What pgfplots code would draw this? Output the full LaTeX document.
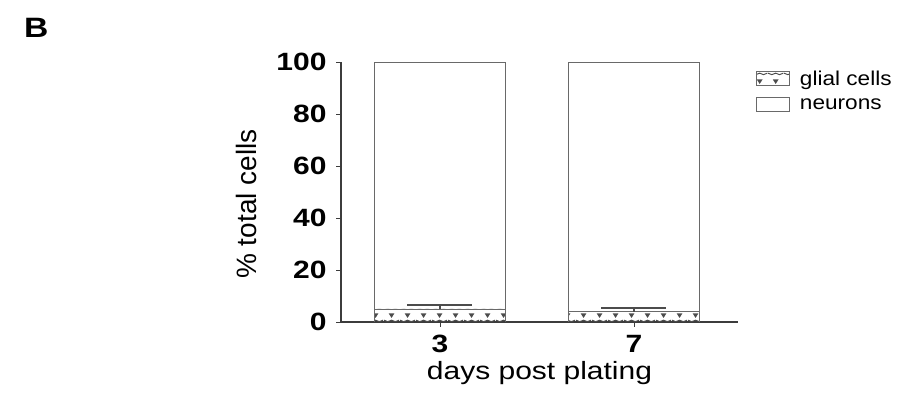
\documentclass[border=0pt]{standalone}
\usepackage{pgfplots}
\pgfplotsset{compat=1.18}
\usepackage{fontspec}
\setmainfont{Liberation Sans}
\newfontfamily\widefont[FakeStretch=1.2]{Liberation Sans}
\newfontfamily\legfont[FakeStretch=1.13]{Liberation Sans}
\usetikzlibrary{patterns}
\pgfdeclarepatternformonly{dtri}{\pgfpoint{0pt}{0pt}}{\pgfpoint{16pt}{13pt}}{\pgfpoint{16pt}{13pt}}{
  \pgfpathmoveto{\pgfpoint{5pt}{12pt}}
  \pgfpathlineto{\pgfpoint{11pt}{12pt}}
  \pgfpathlineto{\pgfpoint{8pt}{7.3pt}}
  \pgfpathclose
  \pgfusepath{fill}
  \pgfsetlinewidth{1pt}
  \pgfpathmoveto{\pgfpoint{0pt}{5pt}}
  \pgfpathcurveto{\pgfpoint{2pt}{3pt}}{\pgfpoint{6pt}{3pt}}{\pgfpoint{8pt}{5pt}}
  \pgfpathcurveto{\pgfpoint{10pt}{3pt}}{\pgfpoint{14pt}{3pt}}{\pgfpoint{16pt}{5pt}}
  \pgfusepath{stroke}
}
\definecolor{axgray}{RGB}{60,60,60}
\definecolor{bargray}{RGB}{105,105,105}
\begin{document}
\begin{tikzpicture}
\useasboundingbox (0pt,0pt) rectangle (898pt,403pt);
\node[anchor=north west, inner sep=0pt, font=\widefont\bfseries\fontsize{28}{28}\selectfont] at (24pt,385pt) {B};
\begin{axis}[
  at={(341pt,81pt)}, anchor=south west,
  scale only axis, width=397pt, height=260pt,
  xmin=-0.51, xmax=1.536, ymin=0, ymax=100,
  ybar stacked, bar width=131pt,
  axis lines*=left,
  axis line style={-, axgray, line width=1.1pt},
  xtick={0,1}, xticklabels={3,7},
  ytick={0,20,40,60,80,100},
  tick align=outside,
  major tick length=5pt,
  tick style={axgray, line width=0.9pt},
  /pgf/number format/assume math mode=true,
  ticklabel style={font=\widefont\bfseries\fontsize{25}{25}\selectfont},
  yticklabel style={xshift=-6pt},
  xticklabel style={yshift=-5pt},
  xlabel={days post plating},
  ylabel={\% total cells},
  xlabel style={font=\widefont\fontsize{25}{25}\selectfont, at={(axis description cs:0.5,-0.195)}, anchor=center},
  ylabel style={font=\fontsize{28}{28}\selectfont, at={(axis description cs:-0.239,0.454)}, anchor=center},
  legend style={at={(axis description cs:1.045,0.975)}, anchor=north west, draw=none, fill=none,
    font=\legfont\fontsize{20}{20}\selectfont, row sep=8pt, column sep=8pt, inner sep=0pt},
  legend cell align=left,
  legend image code/.code={\draw[#1] (0pt,-7pt) rectangle (33pt,7pt);},
]
\addplot+[draw=bargray, line width=0.9pt, pattern=dtri, pattern color=black!70,
  error bars/.cd, y dir=plus, y explicit,
  error bar style={black!70, line width=1.5pt},
  error mark=|,
  error mark options={black!70, mark size=32.5pt, line width=2pt}]
  coordinates {(0,5.0) +- (0,1.5) (1,4.0) +- (0,1.3)};
\addlegendentry{glial cells}
\addplot+[draw=bargray, line width=0.9pt, fill=white]
  coordinates {(0,95.0) (1,96.0)};
\addlegendentry{neurons}
\end{axis}
\end{tikzpicture}
\end{document}
